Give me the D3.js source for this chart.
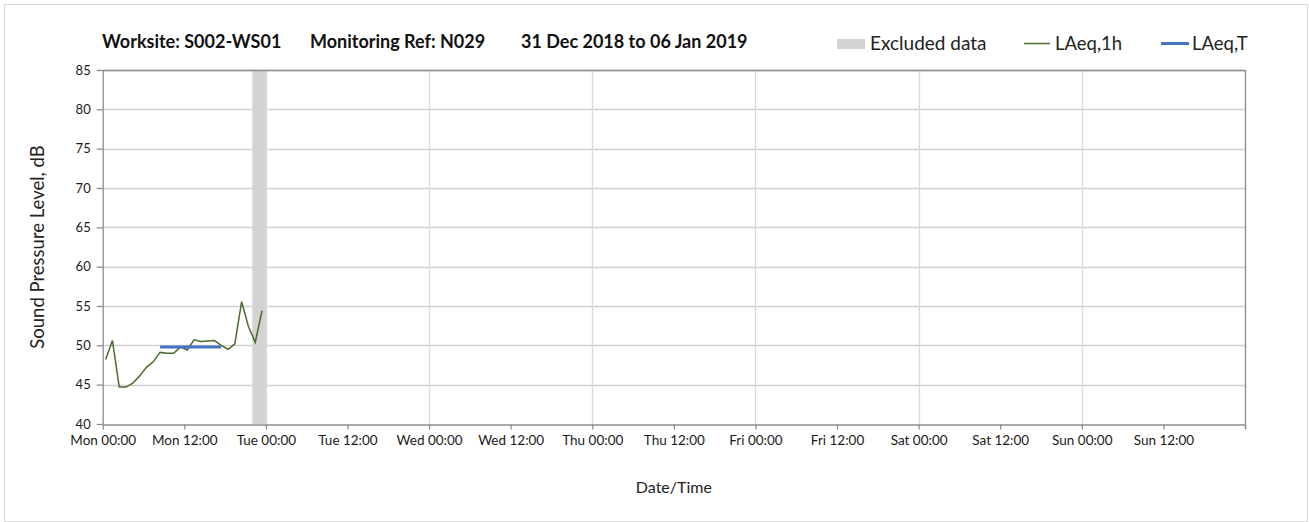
<!DOCTYPE html>
<html>
<head>
<meta charset="utf-8">
<script src="https://cdn.jsdelivr.net/npm/d3@7"></script>
<style>
  html, body { margin: 0; padding: 0; background: #fff; }
  svg { display: block; font-family: Lato, "Open Sans", sans-serif; }
</style>
</head>
<body>
<svg id="chart" width="1309" height="522"></svg>
<script>
// Hourly LAeq,1h readings, Monday 31 Dec 2018
const times = [
  "2018-12-31 00:26", "2018-12-31 01:26", "2018-12-31 02:26", "2018-12-31 03:26",
  "2018-12-31 04:26", "2018-12-31 05:26", "2018-12-31 06:26", "2018-12-31 07:26",
  "2018-12-31 08:26", "2018-12-31 09:26", "2018-12-31 10:26", "2018-12-31 11:26",
  "2018-12-31 12:26", "2018-12-31 13:26", "2018-12-31 14:26", "2018-12-31 15:26",
  "2018-12-31 16:26", "2018-12-31 17:26", "2018-12-31 18:26", "2018-12-31 19:26",
  "2018-12-31 20:26", "2018-12-31 21:26", "2018-12-31 22:26", "2018-12-31 23:26"
];
const laeq1h = [
  48.2, 50.6, 44.7, 44.7, 45.2, 46.1, 47.2, 47.9,
  49.1, 49.0, 49.0, 49.8, 49.4, 50.7, 50.5, 50.55,
  50.6, 50.0, 49.5, 50.2, 55.55, 52.4, 50.4, 54.4
];
// Period LAeq,T over the daytime hours
const laeqTTimes = ["2018-12-31 08:26", "2018-12-31 17:26"];
const laeqTValue = [49.8, 49.8];
// Excluded data window
const excluded = [["2018-12-31 22:00", "2019-01-01 00:00"]];

const yTicks = [40, 45, 50, 55, 60, 65, 70, 75, 80, 85];
const xTickLabels = ["Mon 00:00", "Mon 12:00", "Tue 00:00", "Tue 12:00", "Wed 00:00", "Wed 12:00",
  "Thu 00:00", "Thu 12:00", "Fri 00:00", "Fri 12:00", "Sat 00:00", "Sat 12:00", "Sun 00:00", "Sun 12:00"];
const titleParts = ["Worksite: S002-WS01", "Monitoring Ref: N029", "31 Dec 2018 to 06 Jan 2019"];
const legendLabels = ["Excluded data", "LAeq,1h", "LAeq,T"];

const parse = d3.timeParse("%Y-%m-%d %H:%M");
const start = parse("2018-12-31 00:00");
const end = parse("2019-01-07 00:00");

const svg = d3.select("#chart");
const W = 1309, H = 522;
const m = { left: 102.7, right: 1245, top: 70, bottom: 424 };

const x = d3.scaleTime().domain([start, end]).range([m.left, m.right]);
const y = d3.scaleLinear().domain([40, 85]).range([m.bottom, m.top]);

// outer frame
svg.append("rect").attr("x", 4.5).attr("y", 4.5).attr("width", W - 6).attr("height", H - 5)
  .attr("fill", "#fff").attr("stroke", "#d9d9d9").attr("stroke-width", 1);

// horizontal grid
svg.append("g").selectAll("line").data(yTicks.filter(v => v > 40)).join("line")
  .attr("x1", m.left).attr("x2", m.right)
  .attr("y1", d => Math.round(y(d)) + 0.5).attr("y2", d => Math.round(y(d)) + 0.5)
  .attr("stroke", "#d0d0d0").attr("stroke-width", 1.3);

// vertical grid at each midnight
const days = d3.timeDay.range(d3.timeDay.offset(start, 1), end);
svg.append("g").selectAll("line").data(days).join("line")
  .attr("x1", d => Math.round(x(d)) + 0.5).attr("x2", d => Math.round(x(d)) + 0.5)
  .attr("y1", m.top).attr("y2", m.bottom)
  .attr("stroke", "#d9d9d9").attr("stroke-width", 1.3);

// excluded band
svg.append("g").selectAll("rect").data(excluded).join("rect")
  .attr("x", d => x(parse(d[0])))
  .attr("width", d => x(parse(d[1])) - x(parse(d[0])))
  .attr("y", m.top).attr("height", m.bottom - m.top)
  .attr("fill", "#d3d3d3");

// right frame line
svg.append("line").attr("x1", m.right + 0.5).attr("x2", m.right + 0.5)
  .attr("y1", m.top).attr("y2", m.bottom + 5).attr("stroke", "#8c8c8c").attr("stroke-width", 1.3);
// top frame line
svg.append("line").attr("x1", m.left).attr("x2", m.right)
  .attr("y1", m.top + 0.5).attr("y2", m.top + 0.5).attr("stroke", "#8c8c8c").attr("stroke-width", 1.3);

// x axis
const xTickVals = d3.timeHour.every(12).range(start, end);
const xAxis = d3.axisBottom(x).tickValues(xTickVals.concat([end]))
  .tickFormat((d, i) => xTickLabels[i] || "").tickSizeOuter(0).tickSizeInner(5).tickPadding(6);
const gx = svg.append("g").attr("transform", `translate(0,${m.bottom + 0.5})`).call(xAxis);
gx.select(".domain").attr("stroke", "#8c8c8c").attr("stroke-width", 1.3);
gx.selectAll(".tick line").attr("stroke", "#8c8c8c").attr("stroke-width", 1.3);
gx.selectAll("text").attr("font-size", 13.5).attr("fill", "#1a1a1a").attr("font-family", "Lato, sans-serif");

// y axis
const yAxis = d3.axisLeft(y).tickValues(yTicks).tickSizeOuter(0).tickSizeInner(6).tickPadding(6);
const gy = svg.append("g").attr("transform", `translate(${m.left},0)`).call(yAxis);
gy.select(".domain").attr("stroke", "#8c8c8c").attr("stroke-width", 1.3);
gy.selectAll(".tick line").attr("stroke", "#8c8c8c").attr("stroke-width", 1.3);
gy.selectAll("text").attr("font-size", 13).attr("fill", "#1a1a1a").attr("font-family", "Lato, sans-serif");

// LAeq,1h line
const hourly = times.map((t, i) => ({ t: parse(t), v: laeq1h[i] }));
svg.append("path").datum(hourly)
  .attr("fill", "none").attr("stroke", "#4a6b2a").attr("stroke-width", 1.5)
  .attr("d", d3.line().x(d => x(d.t)).y(d => y(d.v)));

// LAeq,T line
const period = laeqTTimes.map((t, i) => ({ t: parse(t), v: laeqTValue[i] }));
svg.append("path").datum(period)
  .attr("fill", "none").attr("stroke", "#4472c4").attr("stroke-width", 3)
  .attr("d", d3.line().x(d => x(d.t)).y(d => y(d.v)));

// title
const titleX = [102, 310, 521];
svg.append("g").selectAll("text").data(titleParts).join("text")
  .attr("x", (d, i) => titleX[i]).attr("y", 48)
  .attr("font-size", 18).attr("font-weight", "bold").attr("fill", "#111")
  .text(d => d);

// legend
const lg = svg.append("g");
lg.append("rect").attr("x", 837).attr("y", 39).attr("width", 28).attr("height", 10).attr("fill", "#d3d3d3");
lg.append("text").attr("x", 870).attr("y", 50).attr("font-size", 19).attr("fill", "#222").text(legendLabels[0]);
lg.append("line").attr("x1", 1024).attr("x2", 1050).attr("y1", 43.5).attr("y2", 43.5)
  .attr("stroke", "#4a6b2a").attr("stroke-width", 1.5);
lg.append("text").attr("x", 1055).attr("y", 50).attr("font-size", 18.5).attr("fill", "#222").text(legendLabels[1]);
lg.append("line").attr("x1", 1161).attr("x2", 1189).attr("y1", 43.5).attr("y2", 43.5)
  .attr("stroke", "#4472c4").attr("stroke-width", 3);
lg.append("text").attr("x", 1192).attr("y", 50).attr("font-size", 18.5).attr("fill", "#222").text(legendLabels[2]);

// axis titles
svg.append("text").attr("transform", `translate(44,${(m.top + m.bottom) / 2}) rotate(-90)`)
  .attr("text-anchor", "middle").attr("font-size", 18.5).attr("fill", "#222")
  .text("Sound Pressure Level, dB");
svg.append("text").attr("x", (m.left + m.right) / 2).attr("y", 493)
  .attr("text-anchor", "middle").attr("font-size", 16).attr("fill", "#222")
  .text("Date/Time");
</script>
</body>
</html>
